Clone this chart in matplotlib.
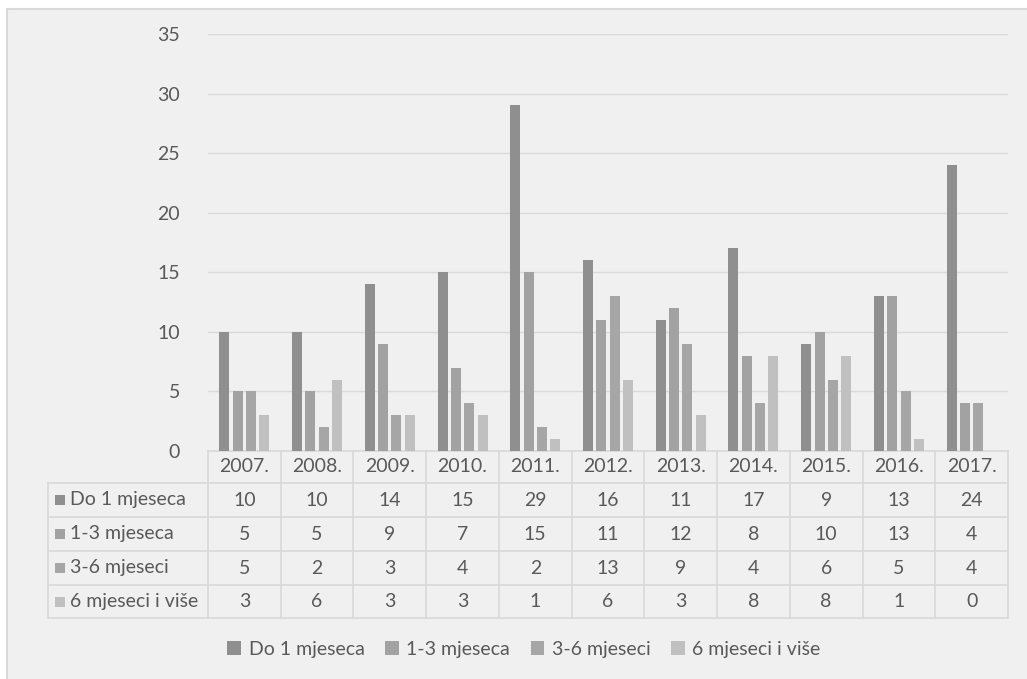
import matplotlib
matplotlib.use("Agg")
import matplotlib.pyplot as plt
from matplotlib.patches import Rectangle, Patch
from matplotlib.lines import Line2D

years = ["2007.", "2008.", "2009.", "2010.", "2011.", "2012.", "2013.", "2014.", "2015.", "2016.", "2017."]
series_names = ["Do 1 mjeseca", "1-3 mjeseca", "3-6 mjeseci", "6 mjeseci i više"]
do1 = [10, 10, 14, 15, 29, 16, 11, 17, 9, 13, 24]
m1_3 = [5, 5, 9, 7, 15, 11, 12, 8, 10, 13, 4]
m3_6 = [5, 2, 3, 4, 2, 13, 9, 4, 6, 5, 4]
m6p = [3, 6, 3, 3, 1, 6, 3, 8, 8, 1, 0]
series = [do1, m1_3, m3_6, m6p]
colors = ["#8f8f8f", "#a2a2a2", "#a6a6a6", "#c0c0c0"]
yticks = [0, 5, 10, 15, 20, 25, 30, 35]

plt.rcParams['font.family'] = ['Lato', 'DejaVu Sans']
TXT = "#595959"
GRID = "#d9d9d9"
FS = 14

W, H = 1027, 679
fig = plt.figure(figsize=(W / 100, H / 100), dpi=100)
fig.patch.set_facecolor("white")

def fx(px):
    return px / W

def fy(py):
    return 1 - py / H

# outer chart frame
frame = Rectangle((fx(7), -0.01), 1.02 - fx(7), fy(9) + 0.01,
                  transform=fig.transFigure, facecolor="#f0f0f0",
                  edgecolor=GRID, linewidth=1.5, zorder=-5)
fig.patches.append(frame)

L, R, T, B = 208, 1008, 34, 451
ax = fig.add_axes([fx(L), fy(B), fx(R) - fx(L), fy(T) - fy(B)])
ax.set_zorder(2)
ax.patch.set_visible(False)
n = len(years)
width = 0.1375
step = 0.183
for i, (vals, c) in enumerate(zip(series, colors)):
    xs = [k + (i - 1.5) * step for k in range(n)]
    ax.bar(xs, vals, width=width, color=c, zorder=3)
ax.set_xlim(-0.5, n - 0.5)
ax.set_ylim(0, 35)
ax.set_yticks(yticks)
ax.set_yticklabels([str(v) for v in yticks], fontsize=FS, color=TXT)
ax.tick_params(axis='y', length=0, pad=20)
ax.set_xticks([])
ax.grid(axis='y', color=GRID, linewidth=1, zorder=0)
for s in ax.spines.values():
    s.set_visible(False)

# data table
colw = (R - L) / n
row_edges = [451, 483, 517, 551, 585, 618]
lab_left = 48

def hline(y, x0, x1):
    fig.add_artist(Line2D([fx(x0), fx(x1)], [fy(y), fy(y)], transform=fig.transFigure,
                          color=GRID, linewidth=1.2))

def vline(x, y0, y1):
    fig.add_artist(Line2D([fx(x), fx(x)], [fy(y0), fy(y1)], transform=fig.transFigure,
                          color=GRID, linewidth=1.2))

hline(row_edges[0], L, R)
for y in row_edges[1:]:
    hline(y, lab_left, R)
vline(lab_left, row_edges[1], row_edges[-1])
for k in range(n + 1):
    vline(L + k * colw, row_edges[0], row_edges[-1])

for k, yr in enumerate(years):
    fig.text(fx(L + (k + 0.5) * colw), fy((row_edges[0] + row_edges[1]) / 2), yr,
             ha='center', va='center', fontsize=FS, color=TXT)
for r, (name, vals, c) in enumerate(zip(series_names, series, colors)):
    yc = (row_edges[r + 1] + row_edges[r + 2]) / 2
    fig.patches.append(Rectangle((fx(55), fy(yc + 5)), fx(10), fy(0) - fy(10),
                                 transform=fig.transFigure, facecolor=c, edgecolor='none'))
    fig.text(fx(70), fy(yc), name, ha='left', va='center', fontsize=FS, color=TXT)
    for k, v in enumerate(vals):
        fig.text(fx(L + (k + 0.5) * colw), fy(yc), str(v), ha='center', va='center',
                 fontsize=FS, color=TXT)

handles = [Patch(facecolor=c, edgecolor='none') for c in colors]
leg = fig.legend(handles, series_names, ncol=4, loc='center',
                 bbox_to_anchor=(fx(524), fy(649)), frameon=False,
                 handlelength=0.7, handleheight=0.7, handletextpad=0.4,
                 columnspacing=1.05, fontsize=FS)
for t in leg.get_texts():
    t.set_color(TXT)

fig.savefig("out.png", dpi=100, facecolor=fig.get_facecolor())
